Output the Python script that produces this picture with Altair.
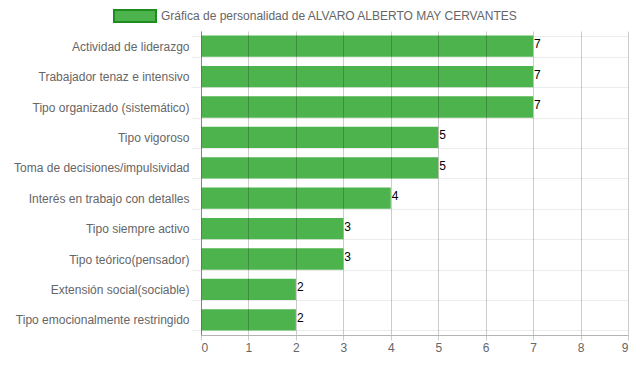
import altair as alt
import pandas as pd

categories = [
    "Actividad de liderazgo",
    "Trabajador tenaz e intensivo",
    "Tipo organizado (sistemático)",
    "Tipo vigoroso",
    "Toma de decisiones/impulsividad",
    "Interés en trabajo con detalles",
    "Tipo siempre activo",
    "Tipo teórico(pensador)",
    "Extensión social(sociable)",
    "Tipo emocionalmente restringido",
]
values = [7, 7, 7, 5, 5, 4, 3, 3, 2, 2]
series_name = "Gráfica de personalidad de ALVARO ALBERTO MAY CERVANTES"
x_ticks = [0, 1, 2, 3, 4, 5, 6, 7, 8, 9]

df = pd.DataFrame({"cat": categories, "val": values, "serie": [series_name] * len(values)})

FONT = "Liberation Sans"
GREEN = "#4db34d"

y_enc = alt.Y(
    "cat:N",
    sort=categories,
    title=None,
    scale=alt.Scale(paddingInner=0.3, paddingOuter=0.15),
    axis=alt.Axis(
        tickBand="extent",
        grid=True,
        gridColor="#ececec",
        tickColor="#ececec",
        tickSize=10,
        labelPadding=2,
        labelColor="#666666",
        labelFontSize=12,
        labelFont=FONT,
        labelLimit=400,
        domainColor="#a6a6a6",
    ),
)
x_enc = alt.X(
    "val:Q",
    title=None,
    scale=alt.Scale(domain=[0, 9], nice=False),
    axis=alt.Axis(
        values=x_ticks,
        grid=True,
        gridColor="#000000",
        gridOpacity=0.2,
        tickColor="#000000",
        tickOpacity=0.2,
        tickSize=5,
        labelPadding=2,
        labelColor="#666666",
        labelFontSize=12,
        labelFont=FONT,
        domainColor="#b3b3b3",
        zindex=1,
    ),
)

bars = alt.Chart(df).mark_bar(opacity=1).encode(
    x=x_enc,
    y=y_enc,
    color=alt.Color(
        "serie:N",
        scale=alt.Scale(domain=[series_name], range=[GREEN]),
        legend=alt.Legend(
            title=None,
            orient="none",
            legendX=-88,
            legendY=-37,
            padding=0,
            symbolType="M-1,-0.2857L1,-0.2857L1,0.2857L-1,0.2857Z",
            symbolSize=1764,
            symbolStrokeColor="#1e8c1e",
            symbolStrokeWidth=2,
            symbolFillColor=GREEN,
            symbolOpacity=1,
            labelColor="#666666",
            labelFontSize=12,
            labelFont=FONT,
            labelOffset=4,
            labelLimit=600,
        ),
    ),
)

labels = alt.Chart(df).mark_text(
    align="left", baseline="middle", dx=1, dy=-2, fontSize=12, font=FONT, color="#000000"
).encode(x="val:Q", y=alt.Y("cat:N", sort=categories), text="val:Q")

chart = (
    alt.layer(bars, labels)
    .properties(
        width=427,
        height=304,
        autosize=alt.AutoSizeParams(type="none"),
        padding={"left": 193, "top": 23, "right": 3, "bottom": 19},
    )
    .configure_view(stroke=None)
)

chart.save("out.html", embed_options={"renderer": "svg", "actions": False})
